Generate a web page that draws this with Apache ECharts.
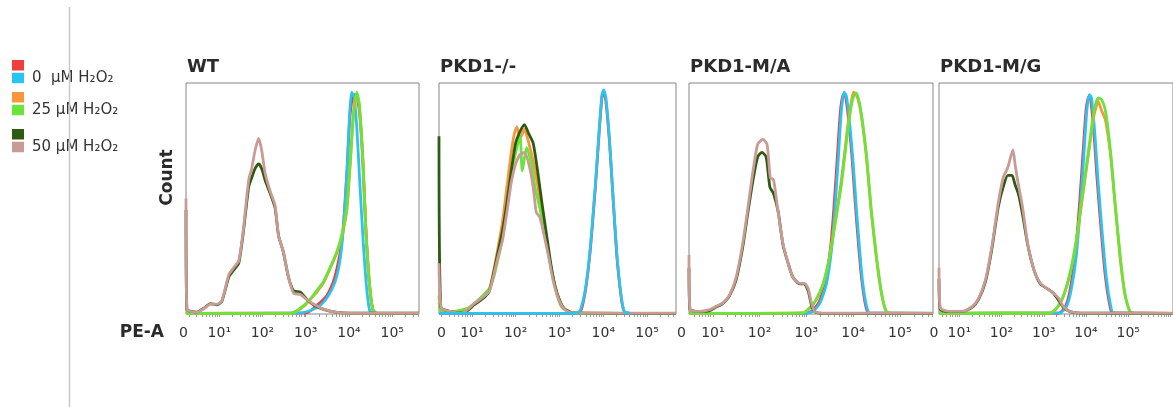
<!DOCTYPE html>
<html>
<head>
<meta charset="utf-8">
<title>PE-A histograms</title>
<script src="https://cdn.jsdelivr.net/npm/echarts@6/dist/echarts.min.js"></script>
<style>
  html, body { margin: 0; padding: 0; background: #fff; }
  #mychart { width: 1173px; height: 407px; }
</style>
</head>
<body>
<div id="mychart"></div>
<script>
  // 文字
  const panelNames = ['WT', 'PKD1-/-', 'PKD1-M/A', 'PKD1-M/G'];
  const tickLabels = ['0', '10¹', '10²', '10³', '10⁴', '10⁵'];
  const legendLabels = ['0  µM H₂O₂', '25 µM H₂O₂', '50 µM H₂O₂'];
  const seriesNames = ['0 µM a', '0 µM b', '25 µM a', '25 µM b', '50 µM a', '50 µM b'];

  // 数据: [log10(PE-A), count (% of box)]
  const wtRed = [[0.23, 0.3], [3.02, 0.5], [3.25, 3.6], [3.48, 7.8], [3.64, 14], [3.79, 26], [3.87, 38], [3.96, 64], [4.02, 85], [4.1, 95], [4.16, 95], [4.24, 88], [4.32, 67], [4.39, 37], [4.47, 14], [4.55, 2], [4.64, 0.3], [5.62, 0.3]];
  const wtCyan = [[0.23, 0.3], [2.87, 0.5], [3.1, 1.4], [3.33, 3.6], [3.52, 7.8], [3.68, 14], [3.79, 23], [3.87, 37], [3.95, 60], [4.01, 85], [4.06, 96], [4.12, 94], [4.18, 81], [4.25, 57], [4.33, 31], [4.41, 11], [4.48, 1.4], [4.56, 0.3], [5.62, 0.3]];
  const wtOrange = [[0.23, 0.3], [2.66, 0.3], [2.8, 1.3], [2.96, 3.4], [3.1, 6.2], [3.26, 9.6], [3.42, 13.8], [3.56, 19.5], [3.72, 26.5], [3.84, 34], [3.95, 45], [4.03, 65], [4.1, 86], [4.17, 95], [4.24, 90], [4.32, 66], [4.39, 36], [4.47, 13], [4.55, 2], [4.64, 0.3], [5.62, 0.3]];
  const wtGreen = [[0.23, 0.3], [2.64, 0.3], [2.79, 1.4], [2.95, 3.6], [3.1, 6.4], [3.25, 10], [3.41, 14], [3.56, 20], [3.72, 27], [3.83, 34], [3.95, 46], [4.02, 64], [4.1, 85], [4.18, 96], [4.24, 91], [4.32, 67], [4.39, 37], [4.47, 14], [4.55, 2], [4.64, 0.3], [5.62, 0.3]];
  const wtDark = [[0.23, 45], [0.25, 2], [0.48, 0.8], [0.68, 3], [0.79, 4.5], [0.95, 4], [1.06, 5.5], [1.22, 16], [1.33, 19], [1.45, 22], [1.56, 36], [1.68, 55], [1.75, 59], [1.83, 63], [1.91, 65], [1.98, 63], [2.06, 58], [2.18, 52], [2.29, 46], [2.37, 34], [2.48, 27], [2.6, 16], [2.72, 10], [2.87, 9.5], [3.02, 6.5], [3.18, 4], [3.41, 2], [3.72, 0.7], [4.02, 0.4], [5.62, 0.4]];
  const wtPink = [[0.23, 50], [0.25, 2], [0.48, 0.7], [0.68, 2.8], [0.79, 4.3], [0.95, 4.3], [1.06, 5.7], [1.22, 17], [1.33, 20], [1.45, 23], [1.56, 37], [1.68, 58], [1.75, 63], [1.83, 71], [1.91, 76], [1.98, 71], [2.06, 61], [2.18, 53], [2.29, 47], [2.37, 34], [2.48, 27], [2.6, 16], [2.72, 9], [2.87, 8.5], [3.02, 6.4], [3.18, 4.3], [3.41, 2.1], [3.72, 0.7], [4.02, 0.4], [5.62, 0.4]];

  const koRed = [[0.25, 0.3], [3.42, 0.3], [3.5, 2], [3.6, 11], [3.71, 29], [3.82, 55], [3.9, 77], [3.97, 94], [4.01, 96], [4.06, 92], [4.14, 75], [4.22, 51], [4.31, 25], [4.41, 7], [4.48, 1], [4.6, 0.3]];
  const koCyan = [[0.25, 0.3], [3.4, 0.3], [3.48, 1.9], [3.59, 10.5], [3.7, 28], [3.82, 56], [3.9, 78], [3.97, 95], [4.01, 97], [4.06, 93.5], [4.14, 76], [4.22, 52], [4.31, 26], [4.41, 7.6], [4.48, 1.1], [4.62, 0.3]];
  const koOrange = [[0.25, 8], [0.3, 1], [0.5, 0.8], [0.9, 1.5], [1.05, 4], [1.2, 6], [1.4, 11], [1.5, 19], [1.6, 29], [1.7, 40], [1.8, 55], [1.9, 70], [1.97, 78], [2.03, 81], [2.1, 76], [2.2, 80], [2.3, 74], [2.4, 66], [2.5, 56], [2.6, 44], [2.7, 32], [2.8, 21], [2.9, 12], [3.0, 6], [3.1, 2.5], [3.3, 0.5], [5.66, 0.3]];
  const koGreen = [[0.25, 5], [0.3, 1], [0.5, 1], [0.7, 1.5], [0.9, 2.5], [1.05, 4.5], [1.2, 7], [1.3, 9], [1.4, 11], [1.5, 16], [1.6, 24], [1.7, 33], [1.8, 46], [1.9, 60], [2.0, 70], [2.1, 77], [2.15, 62], [2.25, 72], [2.35, 66], [2.45, 54], [2.55, 46], [2.65, 36], [2.75, 26], [2.85, 16], [2.95, 8], [3.05, 3], [3.2, 1], [3.4, 0.3], [5.66, 0.3]];
  const koDark = [[0.25, 77], [0.29, 3], [0.5, 1.1], [0.75, 0.5], [0.9, 1.5], [1.05, 4], [1.2, 6], [1.3, 7.5], [1.4, 10], [1.5, 18], [1.6, 27], [1.7, 36], [1.8, 48], [1.9, 62], [2.0, 74], [2.1, 79], [2.2, 82], [2.3, 78], [2.4, 74], [2.5, 62], [2.6, 48], [2.7, 35], [2.8, 22], [2.9, 12], [3.0, 6], [3.1, 2.5], [3.3, 0.5], [5.66, 0.3]];
  const koPink = [[0.25, 22], [0.3, 2.6], [0.5, 1.1], [0.75, 0.4], [0.9, 1.9], [1.05, 4.5], [1.2, 6.5], [1.3, 8], [1.4, 10], [1.5, 17], [1.6, 25], [1.7, 32], [1.8, 44], [1.9, 57], [2.0, 65], [2.1, 69], [2.2, 70], [2.3, 65], [2.4, 55], [2.47, 44], [2.55, 42], [2.65, 34], [2.75, 25], [2.85, 15], [2.95, 8], [3.07, 3], [3.2, 1], [3.4, 0.4], [5.66, 0.4]];

  const maRed = [[0.49, 0.3], [2.98, 0.3], [3.12, 1.3], [3.27, 5], [3.41, 14], [3.52, 29], [3.59, 46], [3.66, 67], [3.73, 88], [3.79, 95], [3.84, 94], [3.91, 83], [3.98, 67], [4.05, 47], [4.12, 29], [4.19, 14], [4.27, 3.5], [4.34, 0.4], [5.71, 0.3]];
  const maCyan = [[0.49, 0.3], [3.0, 0.3], [3.14, 1.1], [3.29, 4.7], [3.43, 13], [3.54, 28], [3.61, 45], [3.68, 66], [3.75, 88], [3.81, 96], [3.86, 94], [3.93, 82], [4.0, 66], [4.07, 46], [4.14, 28], [4.21, 13], [4.29, 3.3], [4.36, 0.4], [5.71, 0.3]];
  const maOrange = [[0.49, 0.3], [2.93, 0.5], [3.07, 2.5], [3.21, 6], [3.36, 13], [3.5, 25], [3.64, 43], [3.75, 58], [3.86, 77], [3.93, 88], [4.01, 96], [4.07, 95], [4.14, 90], [4.21, 81], [4.29, 67], [4.39, 44], [4.5, 24], [4.61, 8.5], [4.71, 1], [4.82, 0.3], [5.71, 0.3]];
  const maGreen = [[0.49, 0.3], [2.93, 0.5], [3.07, 2.6], [3.21, 6.2], [3.36, 13], [3.5, 25], [3.64, 42], [3.75, 56], [3.86, 75], [3.93, 86], [4.0, 93.6], [4.07, 95.7], [4.14, 91], [4.21, 82], [4.29, 68], [4.39, 45], [4.5, 25], [4.61, 9], [4.71, 1.1], [4.82, 0.3], [5.71, 0.3]];
  const maDark = [[0.49, 20], [0.51, 2], [0.7, 1.1], [0.93, 1.5], [1.07, 3], [1.21, 4.5], [1.36, 8], [1.5, 15], [1.64, 29], [1.75, 44], [1.86, 58], [1.96, 68], [2.05, 70], [2.14, 68], [2.22, 55], [2.3, 52], [2.4, 44], [2.5, 30], [2.61, 22], [2.71, 16], [2.86, 13], [2.96, 13], [3.04, 10], [3.12, 3], [3.2, 0.8], [3.4, 0.3], [5.71, 0.3]];
  const maPink = [[0.49, 25.5], [0.51, 2], [0.71, 1.1], [0.93, 1.9], [1.07, 3.3], [1.21, 4.7], [1.36, 8.3], [1.5, 16], [1.64, 30.5], [1.75, 46], [1.86, 62], [1.96, 73.5], [2.07, 75.6], [2.16, 73.5], [2.23, 59], [2.3, 58], [2.39, 45], [2.5, 30.5], [2.61, 22], [2.71, 16], [2.86, 13.3], [2.96, 13.3], [3.04, 11], [3.11, 4.7], [3.18, 1.1], [3.36, 0.4], [5.71, 0.4]];

  const mgRed = [[0.52, 0.3], [3.36, 0.4], [3.52, 3.5], [3.63, 11], [3.75, 26], [3.84, 46], [3.92, 67], [4.0, 88], [4.06, 94], [4.11, 93], [4.19, 78], [4.26, 59], [4.36, 36], [4.46, 16], [4.56, 4], [4.63, 0.4], [6.06, 0.3]];
  const mgCyan = [[0.52, 0.3], [3.38, 0.4], [3.54, 3.3], [3.65, 10.5], [3.77, 25], [3.86, 45], [3.94, 66], [4.02, 88], [4.08, 95], [4.13, 93.6], [4.21, 78], [4.28, 59], [4.38, 36], [4.48, 16], [4.58, 4], [4.65, 0.4], [6.06, 0.3]];
  const mgOrange = [[0.52, 0.3], [3.15, 0.4], [3.31, 2.5], [3.46, 7.4], [3.62, 17], [3.77, 31], [3.92, 51], [4.08, 72], [4.19, 86], [4.29, 92], [4.37, 88], [4.46, 84], [4.58, 69], [4.69, 47], [4.81, 24], [4.92, 8.5], [5.04, 1], [5.15, 0.3], [6.06, 0.3]];
  const mgGreen = [[0.52, 0.3], [3.15, 0.4], [3.31, 2.6], [3.46, 7.6], [3.62, 17.6], [3.77, 32], [3.92, 52], [4.08, 73.5], [4.19, 88], [4.29, 93.6], [4.37, 92.8], [4.46, 88], [4.58, 70.6], [4.69, 48], [4.81, 25], [4.92, 9], [5.04, 1.1], [5.15, 0.3], [6.06, 0.3]];
  const mgDark = [[0.52, 15], [0.55, 2], [0.77, 1], [1.08, 1], [1.31, 3], [1.46, 6.5], [1.62, 14], [1.77, 28], [1.92, 46], [2.04, 55], [2.15, 60], [2.25, 60], [2.32, 56], [2.4, 52], [2.5, 43], [2.62, 30], [2.77, 19], [2.92, 13], [3.08, 11], [3.23, 9], [3.35, 6], [3.46, 3], [3.62, 1], [3.85, 0.4], [6.06, 0.3]];
  const mgPink = [[0.52, 20], [0.55, 2.6], [0.77, 1.1], [1.08, 1.1], [1.31, 3.3], [1.46, 6.9], [1.62, 14.8], [1.77, 29], [1.92, 47.7], [2.04, 59], [2.15, 63.5], [2.27, 71], [2.32, 65], [2.38, 58], [2.5, 46], [2.62, 30.5], [2.77, 19], [2.92, 13.3], [3.08, 11], [3.23, 9], [3.35, 6.9], [3.46, 3.3], [3.62, 1.1], [3.85, 0.5], [6.06, 0.4]];

  const colors = ['#f03c3c', '#2bc4f2', '#f7963c', '#6be33a', '#2e5a12', '#c99b95'];

  // 面板布局
  const panels = [
    { left: 186, width: 233, min: 0.23, max: 5.62, zeroPad: [0, 5, 0, 0], data: [wtRed, wtCyan, wtOrange, wtGreen, wtDark, wtPink], order: [0, 1, 2, 3, 4, 5] },
    { left: 439, width: 237, min: 0.25, max: 5.66, zeroPad: [0, 0, 0, 5], data: [koRed, koCyan, koOrange, koGreen, koDark, koPink], order: [0, 2, 3, 4, 5, 1] },
    { left: 689, width: 244, min: 0.49, max: 5.71, zeroPad: [0, 15, 0, 0], data: [maRed, maCyan, maOrange, maGreen, maDark, maPink], order: [0, 1, 2, 3, 4, 5] },
    { left: 939, width: 240, min: 0.52, max: 6.06, zeroPad: [0, 10, 0, 0], data: [mgRed, mgCyan, mgOrange, mgGreen, mgDark, mgPink], order: [0, 1, 2, 3, 4, 5] }
  ];

  function minorTicks(min, max) {
    const out = [];
    for (let dec = 0; dec <= 6; dec++) {
      for (let k = 1; k <= 9; k++) {
        const v = dec + Math.log10(k);
        if (v >= min && v <= max) out.push(v);
      }
    }
    return out;
  }

  const series = [];
  panels.forEach((p, i) => {
    p.order.forEach(j => {
      series.push({
        type: 'line',
        name: seriesNames[j],
        xAxisIndex: i,
        yAxisIndex: i,
        data: p.data[j],
        showSymbol: false,
        smooth: 0.2,
        color: colors[j],
        lineStyle: { width: 2.8 },
        silent: true
      });
    });
  });

  const legendTops = [60, 92, 129];
  const legend = legendLabels.map((label, k) => ({
    orient: 'vertical',
    left: 12,
    top: legendTops[k],
    padding: 0,
    itemGap: 0,
    itemWidth: 12,
    itemHeight: 10.5,
    icon: 'rect',
    selectedMode: false,
    data: [
      { name: seriesNames[2 * k], itemStyle: { color: colors[2 * k], borderWidth: 0 }, textStyle: { fontSize: 1, lineHeight: 10 } },
      { name: seriesNames[2 * k + 1], itemStyle: { color: colors[2 * k + 1], borderWidth: 0 } }
    ],
    formatter: name => (name === seriesNames[2 * k + 1] ? label : ''),
    textStyle: { fontSize: 15, lineHeight: 10, color: '#333', fontFamily: 'DejaVu Sans', padding: [0, 0, 0, 3] }
  }));

  const myChart = echarts.init(document.getElementById('mychart'));
  const option = {
    animation: false,
    backgroundColor: '#fff',
    title: panelNames.map((t, i) => ({
      text: t,
      left: panels[i].left + 1,
      top: 58,
      padding: 0,
      textStyle: { fontSize: 18, fontWeight: 'bold', color: '#2b2b2b', fontFamily: 'DejaVu Sans' }
    })),
    legend: legend,
    grid: panels.map(p => ({
      left: p.left,
      top: 83,
      width: p.width,
      height: 231,
      show: true,
      borderColor: '#858585',
      borderWidth: 1,
      backgroundColor: 'transparent'
    })),
    xAxis: panels.map((p, i) => ({
      type: 'value',
      gridIndex: i,
      min: p.min,
      max: p.max,
      axisLine: { show: false },
      splitLine: { show: false },
      axisTick: { show: true, inside: false, length: 3, customValues: minorTicks(p.min, p.max), lineStyle: { color: '#999' } },
      axisLabel: {
        customValues: [p.min, 1, 2, 3, 4, 5],
        margin: 12,
        fontSize: 14,
        color: '#333',
        fontFamily: 'DejaVu Sans',
        formatter: v => (v < 1 ? '{z|0}' : tickLabels[Math.round(v)]),
        rich: { z: { padding: p.zeroPad, fontSize: 14, color: '#333', fontFamily: 'DejaVu Sans' } }
      },
      name: i === 0 ? 'PE-A' : '',
      nameLocation: 'start',
      nameGap: 22,
      nameTextStyle: { fontSize: 17, fontWeight: 'bold', color: '#2b2b2b', fontFamily: 'DejaVu Sans', verticalAlign: 'top', lineHeight: 38 }
    })),
    yAxis: panels.map((p, i) => ({
      type: 'value',
      gridIndex: i,
      min: 0,
      max: 100,
      axisLine: { show: false },
      axisTick: { show: false },
      axisLabel: { show: false },
      splitLine: { show: false },
      name: i === 0 ? 'Count' : '',
      nameLocation: 'middle',
      nameRotate: 90,
      nameGap: 10,
      nameTextStyle: { fontSize: 17, fontWeight: 'bold', color: '#2b2b2b', fontFamily: 'DejaVu Sans', padding: [0, 0, 0, 42] }
    })),
    graphic: [
      { type: 'line', z: 100, shape: { x1: 69.5, y1: 7, x2: 69.5, y2: 407 }, style: { stroke: '#c8c8c8', lineWidth: 1.5 } }
    ],
    series: series
  };
  myChart.setOption(option);
</script>
</body>
</html>
